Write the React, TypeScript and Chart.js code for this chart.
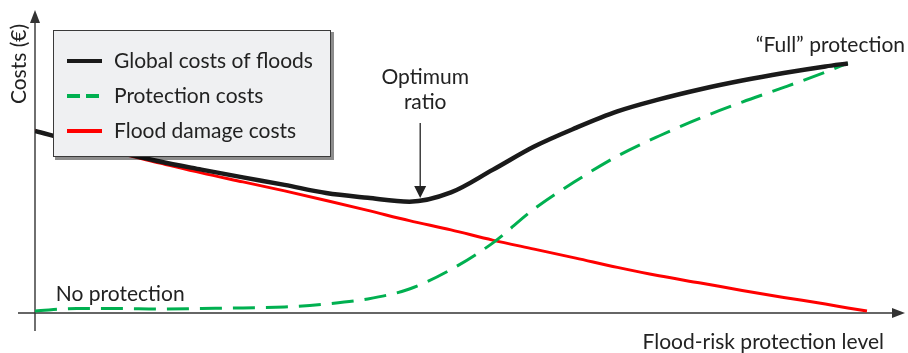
import React, { useEffect, useRef } from 'react';
import { Chart, registerables } from 'chart.js';

Chart.register(...registerables);

// ---- data (arbitrary units) ----
const protectionLevel = [0, 5, 10, 15, 20, 25, 30, 35, 40, 45, 50, 55, 60, 65, 70, 75, 80, 85, 90, 95, 97.7, 100];
const globalCosts = [60.7, 57, 53.7, 50.5, 47.8, 45.2, 42.7, 40, 38.4, 37.1, 40.2, 47.7, 55.5, 61.7, 67.2, 71.2, 74.6, 77.5, 80, 82.2, 83.2, null];
const protectionCosts = [0.7, 1.5, 1.5, 1.3, 1.5, 1.7, 2, 3, 4.7, 8, 14.5, 23.3, 34.7, 44, 52.3, 59, 65, 70.3, 75.2, 80.3, 83.3, null];
const floodDamageCosts = [60.7, 57, 53.3, 50, 46.7, 43.7, 40.7, 37.5, 34.2, 30.8, 27.7, 24.3, 21.3, 18.3, 15.2, 12.4, 10, 7.5, 5.2, 3, 1.7, 0.7];

const seriesLabels = ['Global costs of floods', 'Protection costs', 'Flood damage costs'];
const xAxisTitle = 'Flood-risk protection level';
const yAxisTitle = 'Costs (€)';
const optimumLabel = ['Optimum', 'ratio'];
const optimumLevel = 46.3;
const fullProtectionLabel = '\u201CFull\u201D protection';
const noProtectionLabel = 'No protection';

const FONT = '21px Lato, "Open Sans", sans-serif';
const TEXT = '#222222';
const AXIS = '#333333';

const toPoints = (vals: (number | null)[]) =>
  protectionLevel.map((x, i) => ({ x, y: vals[i] }));

const decorPlugin = {
  id: 'decor',
  beforeDatasetsDraw(chart: any) {
    const { ctx, chartArea, scales } = chart;
    const x0 = scales.x.getPixelForValue(0);
    const y0 = scales.y.getPixelForValue(0);
    ctx.save();
    ctx.strokeStyle = AXIS;
    ctx.fillStyle = AXIS;
    ctx.lineWidth = 1.4;
    // y axis
    ctx.beginPath();
    ctx.moveTo(x0, y0 + 18);
    ctx.lineTo(x0, chartArea.top + 10);
    ctx.stroke();
    ctx.beginPath();
    ctx.moveTo(x0, chartArea.top);
    ctx.lineTo(x0 - 5, chartArea.top + 13);
    ctx.lineTo(x0 + 5, chartArea.top + 13);
    ctx.closePath();
    ctx.fill();
    // x axis
    ctx.beginPath();
    ctx.moveTo(x0 - 17, y0);
    ctx.lineTo(chartArea.right - 10, y0);
    ctx.stroke();
    ctx.beginPath();
    ctx.moveTo(chartArea.right, y0);
    ctx.lineTo(chartArea.right - 13, y0 - 5);
    ctx.lineTo(chartArea.right - 13, y0 + 5);
    ctx.closePath();
    ctx.fill();
    ctx.restore();
  },
  afterDatasetsDraw(chart: any) {
    const { ctx, scales } = chart;
    const xs = scales.x;
    ctx.save();
    ctx.font = FONT;
    ctx.fillStyle = TEXT;
    ctx.textBaseline = 'middle';

    // axis titles
    ctx.textAlign = 'right';
    ctx.fillText(xAxisTitle, 884, 342);
    ctx.save();
    ctx.translate(19, 64);
    ctx.rotate(-Math.PI / 2);
    ctx.textAlign = 'center';
    ctx.fillText(yAxisTitle, 0, 0);
    ctx.restore();

    // annotations
    ctx.textAlign = 'right';
    ctx.fillText(fullProtectionLabel, 905, 45);
    ctx.textAlign = 'left';
    ctx.fillText(noProtectionLabel, xs.getPixelForValue(2.5), 294);

    const ox = xs.getPixelForValue(optimumLevel);
    ctx.textAlign = 'center';
    ctx.fillText(optimumLabel[0], ox + 5, 77);
    ctx.fillText(optimumLabel[1], ox + 5, 102);
    ctx.strokeStyle = '#222';
    ctx.fillStyle = '#222';
    ctx.lineWidth = 1.3;
    ctx.beginPath();
    ctx.moveTo(ox, 123);
    ctx.lineTo(ox, 188);
    ctx.stroke();
    ctx.beginPath();
    ctx.moveTo(ox, 198);
    ctx.lineTo(ox - 6, 186);
    ctx.lineTo(ox + 6, 186);
    ctx.closePath();
    ctx.fill();

    // legend box
    const bx = 53, by = 30, bw = 278, bh = 127;
    ctx.fillStyle = 'rgba(0,0,0,0.45)';
    ctx.fillRect(bx + 2, by + 2, bw + 1, bh + 1);
    ctx.fillStyle = '#eff0f2';
    ctx.fillRect(bx, by, bw, bh);
    ctx.strokeStyle = '#3a3a3a';
    ctx.lineWidth = 1;
    ctx.strokeRect(bx + 0.5, by + 0.5, bw - 1, bh - 1);

    chart.data.datasets.forEach((ds: any, i: number) => {
      const cy = 61 + i * 35;
      ctx.save();
      ctx.strokeStyle = ds.borderColor;
      ctx.lineWidth = 4;
      ctx.setLineDash(ds.borderDash && ds.borderDash.length ? [13, 6] : []);
      ctx.beginPath();
      ctx.moveTo(67, cy);
      ctx.lineTo(102, cy);
      ctx.stroke();
      ctx.restore();
      ctx.fillStyle = TEXT;
      ctx.textAlign = 'left';
      ctx.fillText(ds.label, 114, cy);
    });
    ctx.restore();
  },
};

export default function App() {
  const ref = useRef<HTMLCanvasElement | null>(null);
  useEffect(() => {
    if (!ref.current) return;
    const chart = new Chart(ref.current, {
      type: 'line',
      data: {
        datasets: [
          {
            label: seriesLabels[0],
            data: toPoints(globalCosts),
            borderColor: '#1a1a1a',
            borderWidth: 4.5,
            pointRadius: 0,
            cubicInterpolationMode: 'monotone',
            borderJoinStyle: 'round',
          },
          {
            label: seriesLabels[1],
            data: toPoints(protectionCosts),
            borderColor: '#00b050',
            borderWidth: 3,
            borderDash: [22, 11],
            pointRadius: 0,
            cubicInterpolationMode: 'monotone',
          },
          {
            label: seriesLabels[2],
            data: toPoints(floodDamageCosts),
            borderColor: '#ff0000',
            borderWidth: 3,
            pointRadius: 0,
            cubicInterpolationMode: 'monotone',
          },
        ],
      } as any,
      options: {
        animation: false,
        responsive: false,
        maintainAspectRatio: false,
        layout: { padding: { left: 35, top: 10, right: 3, bottom: 40 } },
        scales: {
          x: { type: 'linear', min: 0, max: 104.57, display: false },
          y: { type: 'linear', min: 0, max: 101, display: false },
        },
        plugins: {
          legend: { display: false },
          tooltip: { enabled: false },
        },
      } as any,
      plugins: [decorPlugin],
    });
    return () => chart.destroy();
  }, []);
  return (
    <div style={{ position: 'fixed', left: 0, top: 0, width: 908, height: 353, background: '#fff' }}>
      <canvas ref={ref} width={908} height={353} style={{ display: 'block' }} />
    </div>
  );
}
